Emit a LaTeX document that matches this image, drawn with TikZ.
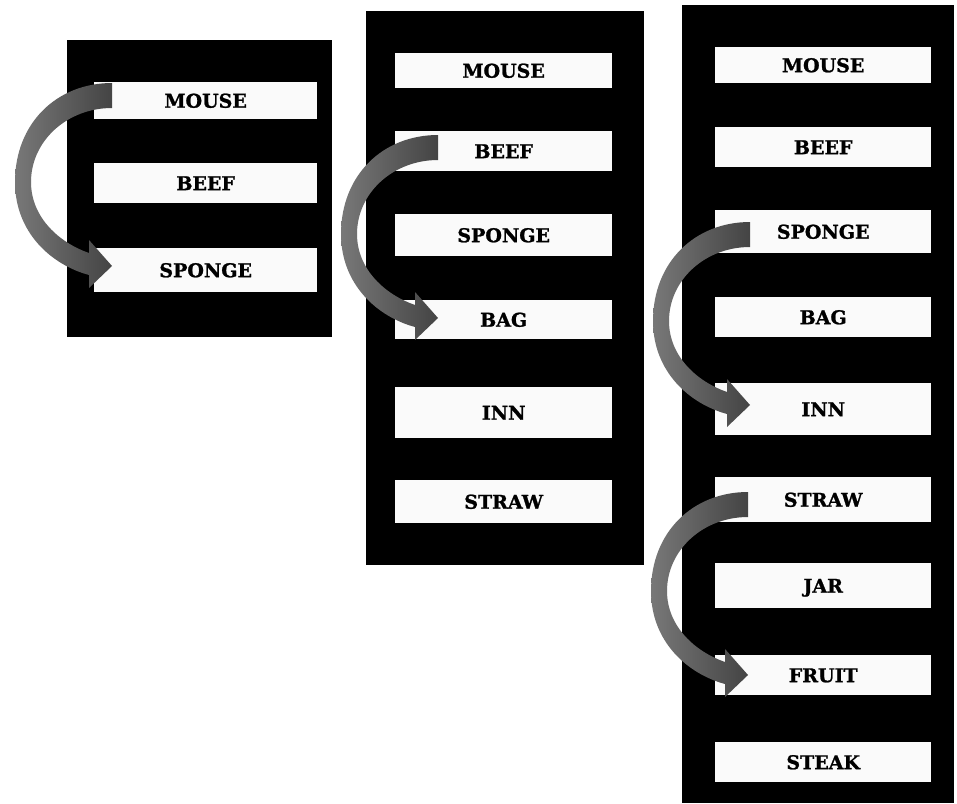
\documentclass[tikz,border=0pt]{standalone}
\usepackage{fontspec}
\setmainfont{DejaVu Serif}[BoldFeatures={FakeBold=1.2}]
\usetikzlibrary{calc}
\definecolor{arrowlight}{HTML}{787878}
\definecolor{arrowdark}{HTML}{444444}
\definecolor{boxfill}{HTML}{FAFAFA}
\tikzset{
  panel/.style={fill=black, draw=none, inner sep=0pt, anchor=north west},
  word/.style={fill=boxfill, draw=none, inner sep=0pt, anchor=north west,
    text height=14pt, text depth=0pt,
    font=\fontsize{19}{19}\selectfont\bfseries, text=black},
  curvearrow/.pic={
    \shade[left color=arrowlight, right color=arrowdark]
      (0,0) .. controls (-55,0) and (-97,40) .. (-97,99)
      .. controls (-97,150) and (-60,182) .. (-23,192)
      -- (-23,205) -- (0,183) -- (-23,157) -- (-23,170)
      .. controls (-52,160) and (-81,135) .. (-81,99)
      .. controls (-81,58) and (-45,25) .. (0,25) -- cycle;
  }
}
\begin{document}
\begin{tikzpicture}[x=1pt,y=-1pt]
\useasboundingbox (0,0) rectangle (957,803);
\fill[white] (0,0) rectangle (957,803);

% panels
\node[panel, minimum width=265, minimum height=297] (panelA) at (67,40) {};
\node[panel, minimum width=278, minimum height=554] (panelB) at (366,11) {};
\node[panel, minimum width=272, minimum height=798] (panelC) at (682,5) {};

% panel 1
\node[word, minimum width=223, minimum height=37] (a1) at (94,82) {MOUSE};
\node[word, minimum width=223, minimum height=40] (a2) at (94,163) {BEEF};
\node[word, minimum width=223, minimum height=44] (a3) at (94,248) {SPONGE};

% panel 2
\node[word, minimum width=217, minimum height=35] (b1) at (395,53) {MOUSE};
\node[word, minimum width=217, minimum height=40] (b2) at (395,131) {BEEF};
\node[word, minimum width=217, minimum height=42] (b3) at (395,214) {SPONGE};
\node[word, minimum width=217, minimum height=39] (b4) at (395,300) {BAG};
\node[word, minimum width=217, minimum height=51] (b5) at (395,387) {INN};
\node[word, minimum width=217, minimum height=43] (b6) at (395,480) {STRAW};

% panel 3
\node[word, minimum width=216, minimum height=36] (c1) at (715,47) {MOUSE};
\node[word, minimum width=216, minimum height=40] (c2) at (715,127) {BEEF};
\node[word, minimum width=216, minimum height=43] (c3) at (715,210) {SPONGE};
\node[word, minimum width=216, minimum height=40] (c4) at (715,297) {BAG};
\node[word, minimum width=216, minimum height=52] (c5) at (715,383) {INN};
\node[word, minimum width=216, minimum height=45] (c6) at (715,477) {STRAW};
\node[word, minimum width=216, minimum height=45] (c7) at (715,563) {JAR};
\node[word, minimum width=216, minimum height=40] (c8) at (715,655) {FRUIT};
\node[word, minimum width=216, minimum height=40] (c9) at (715,742) {STEAK};

% curved arrows
\pic at ($(a1.north west)+(18,1)$) {curvearrow};
\pic at ($(b2.north west)+(43,4)$) {curvearrow};
\pic at ($(c3.north west)+(35,12)$) {curvearrow};
\pic at ($(c6.north west)+(33,15)$) {curvearrow};
\end{tikzpicture}
\end{document}
